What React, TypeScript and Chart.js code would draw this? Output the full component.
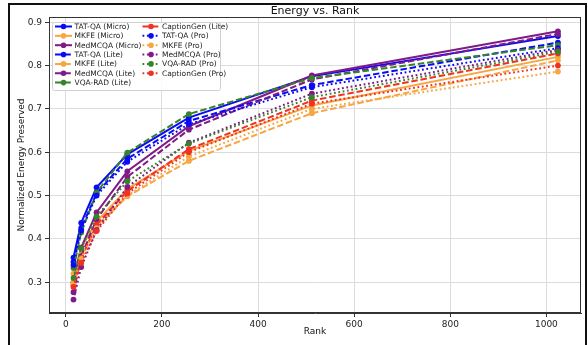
import React, { useEffect, useRef } from "react";
import { Chart, registerables } from "chart.js";

Chart.register(...registerables);

const ranks = [16, 32, 64, 128, 256, 512, 1024];
const tatqaMicro = [0.357, 0.437, 0.519, 0.595, 0.68, 0.775, 0.868];
const mkfeMicro = [0.32, 0.38, 0.44, 0.515, 0.603, 0.708, 0.82];
const medmcqaMicro = [0.3, 0.38, 0.461, 0.556, 0.66, 0.777, 0.879];
const tatqaLite = [0.347, 0.425, 0.505, 0.585, 0.672, 0.755, 0.853];
const mkfeLite = [0.3, 0.365, 0.43, 0.498, 0.58, 0.69, 0.812];
const medmcqaLite = [0.277, 0.36, 0.445, 0.543, 0.652, 0.768, 0.873];
const vqaradLite = [0.333, 0.415, 0.507, 0.599, 0.688, 0.771, 0.847];
const captiongenLite = [0.293, 0.355, 0.433, 0.51, 0.607, 0.719, 0.828];
const tatqaPro = [0.34, 0.42, 0.5, 0.578, 0.665, 0.75, 0.84];
const mkfePro = [0.295, 0.355, 0.425, 0.5, 0.59, 0.7, 0.786];
const medmcqaPro = [0.26, 0.335, 0.42, 0.52, 0.622, 0.735, 0.836];
const vqaradPro = [0.31, 0.378, 0.452, 0.533, 0.62, 0.727, 0.832];
const captiongenPro = [0.289, 0.345, 0.418, 0.505, 0.6, 0.712, 0.8];

const yTicks = [0.3, 0.4, 0.5, 0.6, 0.7, 0.8, 0.9];
const xTicks = [0, 200, 400, 600, 800, 1000];

const BLUE = "#0a0af5";
const ORANGE = "#f6a642";
const PURPLE = "#7f1a86";
const GREEN = "#36842a";
const RED = "#f03224";

const SOLID: number[] = [];
const DASHED = [6.5, 2.8];
const DOTTED = [1.8, 2.6];

const seriesList = [
  { label: "TAT-QA (Micro)", data: tatqaMicro, color: BLUE, dash: SOLID },
  { label: "MKFE (Micro)", data: mkfeMicro, color: ORANGE, dash: SOLID },
  { label: "MedMCQA (Micro)", data: medmcqaMicro, color: PURPLE, dash: SOLID },
  { label: "TAT-QA (Lite)", data: tatqaLite, color: BLUE, dash: DASHED },
  { label: "MKFE (Lite)", data: mkfeLite, color: ORANGE, dash: DASHED },
  { label: "MedMCQA (Lite)", data: medmcqaLite, color: PURPLE, dash: DASHED },
  { label: "VQA-RAD (Lite)", data: vqaradLite, color: GREEN, dash: DASHED },
  { label: "CaptionGen (Lite)", data: captiongenLite, color: RED, dash: DASHED },
  { label: "TAT-QA (Pro)", data: tatqaPro, color: BLUE, dash: DOTTED },
  { label: "MKFE (Pro)", data: mkfePro, color: ORANGE, dash: DOTTED },
  { label: "MedMCQA (Pro)", data: medmcqaPro, color: PURPLE, dash: DOTTED },
  { label: "VQA-RAD (Pro)", data: vqaradPro, color: GREEN, dash: DOTTED },
  { label: "CaptionGen (Pro)", data: captiongenPro, color: RED, dash: DOTTED },
];

const FONT = "'DejaVu Sans', sans-serif";

const decorPlugin = {
  id: "decor",
  afterDraw(chart: any) {
    const ctx = chart.ctx as CanvasRenderingContext2D;
    const a = chart.chartArea;
    ctx.save();
    ctx.strokeStyle = "#333";
    ctx.lineWidth = 1;
    ctx.setLineDash([]);
    ctx.strokeRect(a.left + 0.5, a.top + 0.5, a.right - a.left - 1, a.bottom - a.top - 1);

    ctx.fillStyle = "#111";
    ctx.textAlign = "center";
    ctx.textBaseline = "middle";
    ctx.font = `11px ${FONT}`;
    ctx.fillText("Energy vs. Rank", (a.left + a.right) / 2, 11.5);
    ctx.font = `9px ${FONT}`;
    ctx.fillText("Rank", (a.left + a.right) / 2, 332);
    ctx.save();
    ctx.translate(22, (a.top + a.bottom) / 2);
    ctx.rotate(-Math.PI / 2);
    ctx.fillText("Normalized Energy Preserved", 0, 0);
    ctx.restore();

    const bx = 52.5, by = 22.5, bw = 168, bh = 68;
    ctx.beginPath();
    const r = 2;
    ctx.moveTo(bx + r, by);
    ctx.lineTo(bx + bw - r, by);
    ctx.arcTo(bx + bw, by, bx + bw, by + r, r);
    ctx.lineTo(bx + bw, by + bh - r);
    ctx.arcTo(bx + bw, by + bh, bx + bw - r, by + bh, r);
    ctx.lineTo(bx + r, by + bh);
    ctx.arcTo(bx, by + bh, bx, by + bh - r, r);
    ctx.lineTo(bx, by + r);
    ctx.arcTo(bx, by, bx + r, by, r);
    ctx.closePath();
    ctx.fillStyle = "rgba(255,255,255,0.85)";
    ctx.fill();
    ctx.strokeStyle = "#d0d0d0";
    ctx.lineWidth = 1;
    ctx.stroke();

    const rowH = 9.35;
    const y0 = 26.5;
    ctx.font = `7.5px ${FONT}`;
    ctx.textAlign = "left";
    ctx.textBaseline = "middle";
    seriesList.forEach((s, i) => {
      const col = i < 7 ? 0 : 1;
      const row = col === 0 ? i : i - 7;
      const lx = col === 0 ? 55 : 142.5;
      const y = y0 + row * rowH;
      ctx.strokeStyle = s.color;
      ctx.lineWidth = 2;
      ctx.setLineDash(s.dash);
      ctx.beginPath();
      ctx.moveTo(lx, y);
      ctx.lineTo(lx + 17, y);
      ctx.stroke();
      ctx.setLineDash([]);
      ctx.fillStyle = s.color;
      ctx.beginPath();
      ctx.arc(lx + 8.5, y, 2.8, 0, Math.PI * 2);
      ctx.fill();
      ctx.fillStyle = "#222";
      ctx.fillText(s.label, lx + 19.5, y + 0.5);
    });
    ctx.restore();
  },
};

export default function App() {
  const ref = useRef<HTMLCanvasElement | null>(null);
  useEffect(() => {
    if (!ref.current) return;
    const chart = new Chart(ref.current, {
      type: "line",
      data: {
        datasets: seriesList.map((s, i) => ({
          label: s.label,
          data: ranks.map((x, k) => ({ x, y: s.data[k] })),
          borderColor: s.color,
          backgroundColor: s.color,
          borderWidth: 2,
          borderDash: s.dash,
          pointRadius: 2.9,
          pointBorderWidth: 0,
          pointBackgroundColor: s.color,
          tension: 0,
          fill: false,
          order: -i,
        })),
      },
      options: {
        responsive: false,
        animation: false,
        devicePixelRatio: 1,
        layout: { padding: { top: 17, right: 7, left: 0, bottom: 0 } },
        plugins: {
          legend: { display: false },
          tooltip: { enabled: false },
          title: { display: false },
        },
        scales: {
          x: {
            type: "linear",
            min: -35,
            max: 1072,
            afterFit: (s: any) => {
              s.height = 32;
            },
            afterBuildTicks: (s: any) => {
              s.ticks = xTicks.map((v) => ({ value: v }));
            },
            ticks: {
              font: { family: FONT, size: 9 },
              color: "#222",
              padding: 2,
              maxRotation: 0,
              callback: (v: any) => String(v),
            },
            grid: {
              color: "#dcdcdc",
              lineWidth: 1,
              tickColor: "#333",
              tickLength: 4,
            },
            border: { display: true, color: "#333" },
          },
          y: {
            type: "linear",
            min: 0.229,
            max: 0.912,
            afterFit: (s: any) => {
              s.width = 49;
            },
            afterBuildTicks: (s: any) => {
              s.ticks = yTicks.map((v) => ({ value: v }));
            },
            ticks: {
              font: { family: FONT, size: 9 },
              color: "#222",
              padding: 3,
              callback: (v: any) => Number(v).toFixed(1),
            },
            grid: {
              color: "#dcdcdc",
              lineWidth: 1,
              tickColor: "#333",
              tickLength: 4,
            },
            border: { display: true, color: "#333" },
          },
        },
      },
      plugins: [decorPlugin],
    } as any);
    return () => chart.destroy();
  }, []);

  return (
    <div style={{ position: "fixed", left: 0, top: 0, width: 588, height: 345, background: "#fff" }}>
      <canvas ref={ref} width={588} height={345} style={{ position: "absolute", left: 0, top: 0 }} />
      <div
        style={{
          position: "absolute",
          left: 8,
          top: 3,
          width: 579,
          height: 360,
          border: "2px solid #111",
          boxSizing: "border-box",
          pointerEvents: "none",
        }}
      />
    </div>
  );
}
